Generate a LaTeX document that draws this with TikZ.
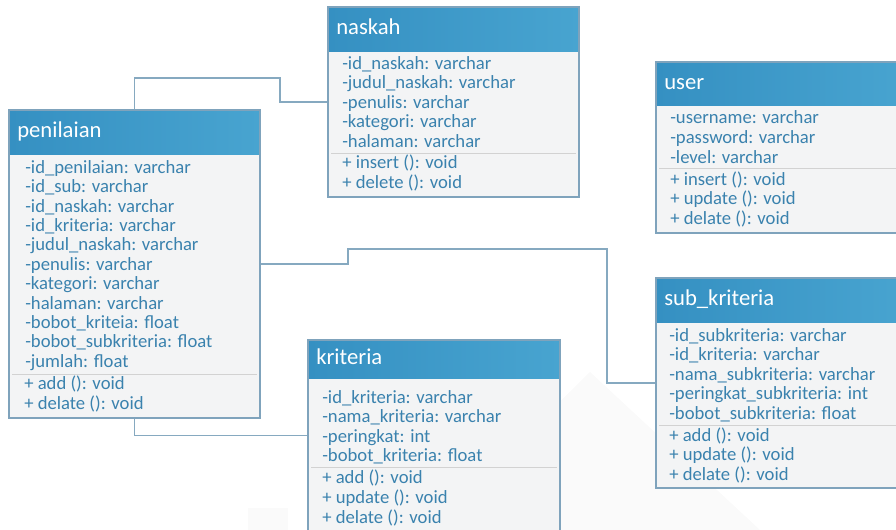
\documentclass[tikz,border=0pt]{standalone}
\usepackage{fontspec}
\setmainfont{Carlito}
\usetikzlibrary{fit}

\definecolor{hdrA}{HTML}{3590C2}
\definecolor{hdrB}{HTML}{48A4D0}
\definecolor{bodyfill}{HTML}{F3F4F5}
\definecolor{edge}{HTML}{7FA3BC}
\definecolor{rowcol}{HTML}{3A82AE}
\definecolor{linkcol}{HTML}{86A9C0}

\tikzset{
  boxframe/.style={draw=edge, line width=0.9pt},
  hdrtext/.style={text=white, font=\fontsize{17}{20}\selectfont, anchor=west, inner sep=0,
                  text height=12pt, text depth=4pt},
  rowtext/.style={text=rowcol, font=\fontsize{14}{16}\selectfont, anchor=west, inner sep=0,
                  text height=9.5pt, text depth=3pt},
  divider/.style={draw=gray!35, line width=0.6pt},
  link/.style={draw=linkcol, line width=0.8pt},
  watermark/.style={fill=black, fill opacity=0.018, draw=none},
}

% class box: name, left, top, right, bottom, header bottom, divider y, title
\newcommand\umlbox[8]{%
  \fill[bodyfill] (#2,#3) rectangle (#4,#5);
  \shade[left color=hdrA, right color=hdrB] (#2,#3) rectangle (#4,#6);
  \draw[divider] (#2+3,#7) -- (#4-3,#7);
  \node[boxframe, inner sep=0, fit={(#2,#3) (#4,#5)}] (#1) {};
  \node[hdrtext] (#1-title) at (#2+8,{(#3+#6)/2}) {#8};
}

% rows of a class: prefix, x, first y, step, entries
\newcommand\umlrows[5]{%
  \foreach \entry [count=\k] in {#5}
    \node[rowtext] (#1-\k) at (#2,{#3+1+(\k-1)*#4}) {\entry};
}

\begin{document}
\begin{tikzpicture}[x=0.75pt, y=-0.75pt]
  \useasboundingbox (0,0) rectangle (896,530);
  \clip (0,0) rectangle (896,530);
  \fill[white] (0,0) rectangle (896,530);

  % faint background logo
  \fill[watermark] (590,372) -- (760,530) -- (430,530) -- cycle;
  \fill[watermark] (248,508) rectangle (288,530);

  % penilaian
  \umlbox{penilaian}{9}{110}{260}{418}{155}{374}{penilaian}
  \umlrows{penilaian-a}{25}{168}{19.4}{{-id\_penilaian: varchar},{-id\_sub: varchar},
    {-id\_naskah: varchar},{-id\_kriteria: varchar},{-judul\_naskah: varchar},
    {-penulis: varchar},{-kategori: varchar},{-halaman: varchar},
    {-bobot\_kriteia: float},{-bobot\_subkriteria: float},{-jumlah: float}}
  \umlrows{penilaian-m}{24}{384}{20.5}{{+ add (): void},{+ delate (): void}}

  % naskah
  \umlbox{naskah}{328}{7}{579}{197}{52}{153}{naskah}
  \umlrows{naskah-a}{342}{64}{19.5}{{-id\_naskah: varchar},{-judul\_naskah: varchar},
    {-penulis: varchar},{-kategori: varchar},{-halaman: varchar}}
  \umlrows{naskah-m}{342}{163}{20}{{+ insert (): void},{+ delete (): void}}

  % user
  \umlbox{user}{656}{62}{905}{233}{106}{168}{user}
  \umlrows{user-a}{670}{118}{20}{{-username: varchar},{-password: varchar},{-level: varchar}}
  \umlrows{user-m}{670}{180}{19.5}{{+ insert (): void},{+ update (): void},{+ delate (): void}}

  % sub_kriteria
  \umlbox{subkriteria}{656}{278}{905}{488}{323}{425}{sub\_kriteria}
  \umlrows{subkriteria-a}{669}{336}{19.5}{{-id\_subkriteria: varchar},{-id\_kriteria: varchar},
    {-nama\_subkriteria: varchar},{-peringkat\_subkriteria: int},{-bobot\_subkriteria: float}}
  \umlrows{subkriteria-m}{669}{436}{19.5}{{+ add (): void},{+ update (): void},{+ delate (): void}}

  % kriteria
  \umlbox{kriteria}{308}{340}{560}{531}{379}{467}{kriteria}
  \umlrows{kriteria-a}{322}{398}{19.4}{{-id\_kriteria: varchar},{-nama\_kriteria: varchar},
    {-peringkat: int},{-bobot\_kriteria: float}}
  \umlrows{kriteria-m}{322}{478}{20}{{+ add (): void},{+ update (): void},{+ delate (): void}}

  % associations
  \coordinate (bendA) at (280,78);
  \coordinate (bendB) at (348,249);
  \coordinate (bendC) at (607,383);
  \draw[link] (penilaian.north) |- (bendA) |- (naskah.west);
  \draw[link] (penilaian.east) -| (bendB) -| (bendC) -- (subkriteria.west);
  \draw[link] (penilaian.south) |- (kriteria.west);
\end{tikzpicture}
\end{document}
